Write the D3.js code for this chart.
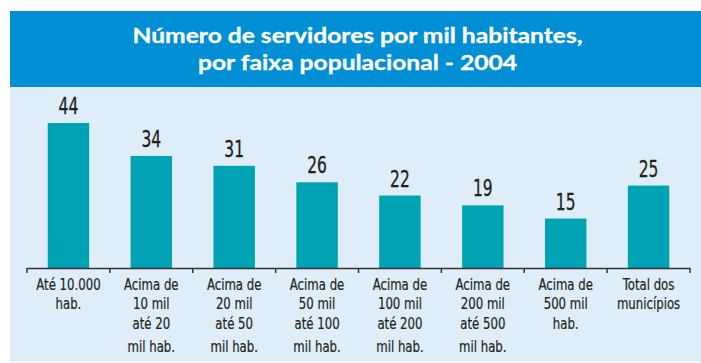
<!DOCTYPE html>
<html>
<head>
<meta charset="utf-8">
<script src="https://cdn.jsdelivr.net/npm/d3@7"></script>
<style>
  html, body { margin: 0; padding: 0; background: #ffffff; }
  svg { display: block; }
</style>
</head>
<body>
<svg id="chart" width="701" height="363"></svg>
<script>
// Servidores municipais por mil habitantes, por faixa populacional (2004)
const titleLines = ["Número de servidores por mil habitantes,", "por faixa populacional - 2004"];
const categories = ["ate10", "10a20", "20a50", "50a100", "100a200", "200a500", "acima500", "total"];
const categoryLabels = [
  ["Até 10.000", "hab."],
  ["Acima de", "10 mil", "até 20", "mil hab."],
  ["Acima de", "20 mil", "até 50", "mil hab."],
  ["Acima de", "50 mil", "até 100", "mil hab."],
  ["Acima de", "100 mil", "até 200", "mil hab."],
  ["Acima de", "200 mil", "até 500", "mil hab."],
  ["Acima de", "500 mil", "hab."],
  ["Total dos", "municípios"]
];
const values = [44, 34, 31, 26, 22, 19, 15, 25];

const svg = d3.select("#chart");
const W = 701;

// panel backgrounds
svg.append("rect").attr("x", 10).attr("y", 87).attr("width", W - 10).attr("height", 275)
  .attr("fill", "#deedf7");
svg.append("rect").attr("x", 10).attr("y", 11).attr("width", W - 10).attr("height", 76)
  .attr("fill", "#008fd4");

// title
const titleWidths = [450, 319];
svg.append("g").selectAll("text").data(titleLines).join("text")
  .attr("x", 357.5)
  .attr("y", (d, i) => 43 + i * 27)
  .attr("text-anchor", "middle")
  .attr("fill", "#ffffff")
  .attr("stroke", "#ffffff")
  .attr("stroke-width", 0.3)
  .attr("font-family", "Lato, 'Open Sans', sans-serif")
  .attr("font-weight", 700)
  .attr("font-size", 21.5)
  .attr("textLength", (d, i) => titleWidths[i])
  .attr("lengthAdjust", "spacingAndGlyphs")
  .text(d => d);

// scales
const x = d3.scaleBand().domain(categories).range([27, 690])
  .paddingInner(0.5).paddingOuter(0.25);
const y = d3.scaleLinear().domain([0, 44]).range([268, 123]);

// condensed look: DejaVu Sans Condensed squeezed a bit further
const labelFont = "'DejaVu Sans Condensed', 'DejaVu Sans', sans-serif";
const cx = i => x(categories[i]) + x.bandwidth() / 2;

// bars
svg.append("g").selectAll("rect").data(values).join("rect")
  .attr("x", (d, i) => x(categories[i]))
  .attr("y", d => y(d))
  .attr("width", x.bandwidth())
  .attr("height", d => y(0) - y(d))
  .attr("fill", "#00a3b4");

// value labels
svg.append("g").selectAll("text").data(values).join("text")
  .attr("transform", (d, i) => `translate(${cx(i)},${y(d) - 9}) scale(0.74,1)`)
  .attr("text-anchor", "middle")
  .attr("fill", "#231f20")
  .attr("stroke", "#231f20")
  .attr("stroke-width", 0.3)
  .attr("font-family", labelFont)
  .attr("font-size", 23.3)
  .text(d => d);

// axis baseline and ticks at band boundaries
const half = x.step() * x.paddingInner() / 2;
const tickXs = categories.map(c => x(c) - half).concat([x.range()[1]]);
const axis = svg.append("g").attr("stroke", "#333333").attr("fill", "none");
axis.append("line").attr("x1", x.range()[0]).attr("x2", x.range()[1])
  .attr("y1", y(0) + 0.5).attr("y2", y(0) + 0.5).attr("stroke-width", 1.5);
axis.selectAll("line.tick").data(tickXs).join("line").attr("class", "tick")
  .attr("x1", d => d).attr("x2", d => d)
  .attr("y1", y(0)).attr("y2", y(0) + 5).attr("stroke-width", 1.5);

// category labels
const lineOffsets = [0, 20, 39.4, 62.7];
const lab = svg.append("g").selectAll("text").data(categoryLabels).join("text")
  .attr("transform", (d, i) => `translate(${cx(i)},289.5) scale(0.8,1)`)
  .attr("text-anchor", "middle")
  .attr("fill", "#231f20")
  .attr("stroke", "#231f20")
  .attr("stroke-width", 0.2)
  .attr("font-family", labelFont)
  .attr("font-size", 16.3);
lab.each(function(lines) {
  d3.select(this).selectAll("tspan").data(lines).join("tspan")
    .attr("x", 0)
    .attr("y", (d, j) => lineOffsets[j])
    .text(d => d);
});
</script>
</body>
</html>
